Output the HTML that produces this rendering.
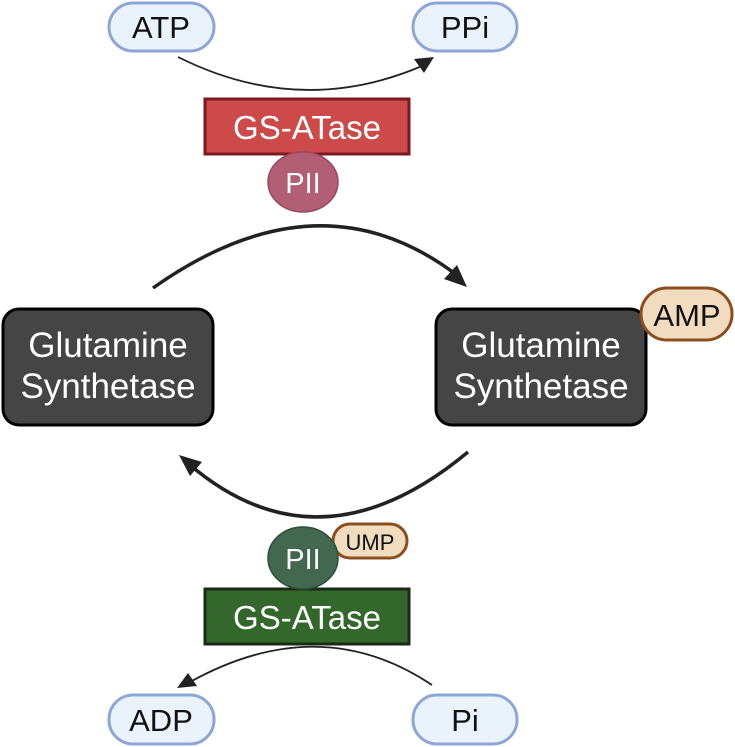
<!DOCTYPE html>
<html><head><style>
body{margin:0;background:#fff;}
svg{display:block;font-family:"Liberation Sans",sans-serif;}
</style></head><body>
<svg width="735" height="747" viewBox="0 0 735 747">
<g stroke="#8ea6d6" stroke-width="3" fill="#eaf2fc">
<rect x="109" y="3" width="105" height="48" rx="24"/>
<rect x="413" y="3" width="104" height="48" rx="24"/>
<rect x="109" y="695" width="105" height="49" rx="24"/>
<rect x="413" y="695" width="104" height="49" rx="24"/>
</g>
<g font-size="31" text-anchor="middle" fill="#111">
<text x="161" y="38">ATP</text>
<text x="465" y="38">PPi</text>
<text x="161" y="731">ADP</text>
<text x="465" y="731">Pi</text>
</g>
<path d="M178 57 Q 300 118 422 66" fill="none" stroke="#222" stroke-width="1.8"/>
<polygon points="434,57 414,59 424,73" fill="#222"/>
<path d="M432 685 Q 320 610 190 682" fill="none" stroke="#222" stroke-width="1.8"/>
<polygon points="177,688 197,686 188,673" fill="#222"/>
<rect x="205" y="99" width="204" height="55" fill="#cc4a4a" stroke="#7a1a1e" stroke-width="3"/>
<text x="307" y="139" font-size="33" fill="#fff" text-anchor="middle">GS-ATase</text>
<ellipse cx="303" cy="182" rx="35" ry="30" fill="#b25e74" stroke="#9a4860" stroke-width="1.5"/>
<text x="303" y="193" font-size="29" fill="#fff" text-anchor="middle">PII</text>
<rect x="205" y="589" width="204" height="55" fill="#34672c" stroke="#1b2a19" stroke-width="3"/>
<text x="307" y="629" font-size="33" fill="#fff" text-anchor="middle">GS-ATase</text>
<rect x="333" y="524" width="74" height="34" rx="17" fill="#f2dcc0" stroke="#8b4f1f" stroke-width="3"/>
<text x="370" y="550" font-size="22" fill="#111" text-anchor="middle">UMP</text>
<ellipse cx="303" cy="558" rx="35" ry="31" fill="#42684f" stroke="#2e4e3a" stroke-width="1.5"/>
<text x="303" y="569" font-size="29" fill="#fff" text-anchor="middle">PII</text>
<path d="M153 288 Q 320 170 458 276" fill="none" stroke="#222" stroke-width="3.5"/>
<polygon points="467,287 444,279 457,265" fill="#222"/>
<path d="M468 452 Q 320 575 190 465" fill="none" stroke="#222" stroke-width="3.5"/>
<polygon points="179,455 202,462 190,476" fill="#222"/>
<rect x="3" y="309" width="210" height="116" rx="16" fill="#454545" stroke="#000" stroke-width="3"/>
<rect x="436" y="309" width="210" height="116" rx="16" fill="#454545" stroke="#000" stroke-width="3"/>
<g font-size="35" fill="#fff" text-anchor="middle">
<text x="108" y="357">Glutamine</text>
<text x="108" y="398">Synthetase</text>
<text x="541" y="357">Glutamine</text>
<text x="541" y="398">Synthetase</text>
</g>
<rect x="641" y="288" width="91" height="52" rx="26" fill="#f2dcc0" stroke="#8b4f1f" stroke-width="3"/>
<text x="687" y="326" font-size="31" fill="#111" text-anchor="middle">AMP</text>
</svg>
</body></html>
